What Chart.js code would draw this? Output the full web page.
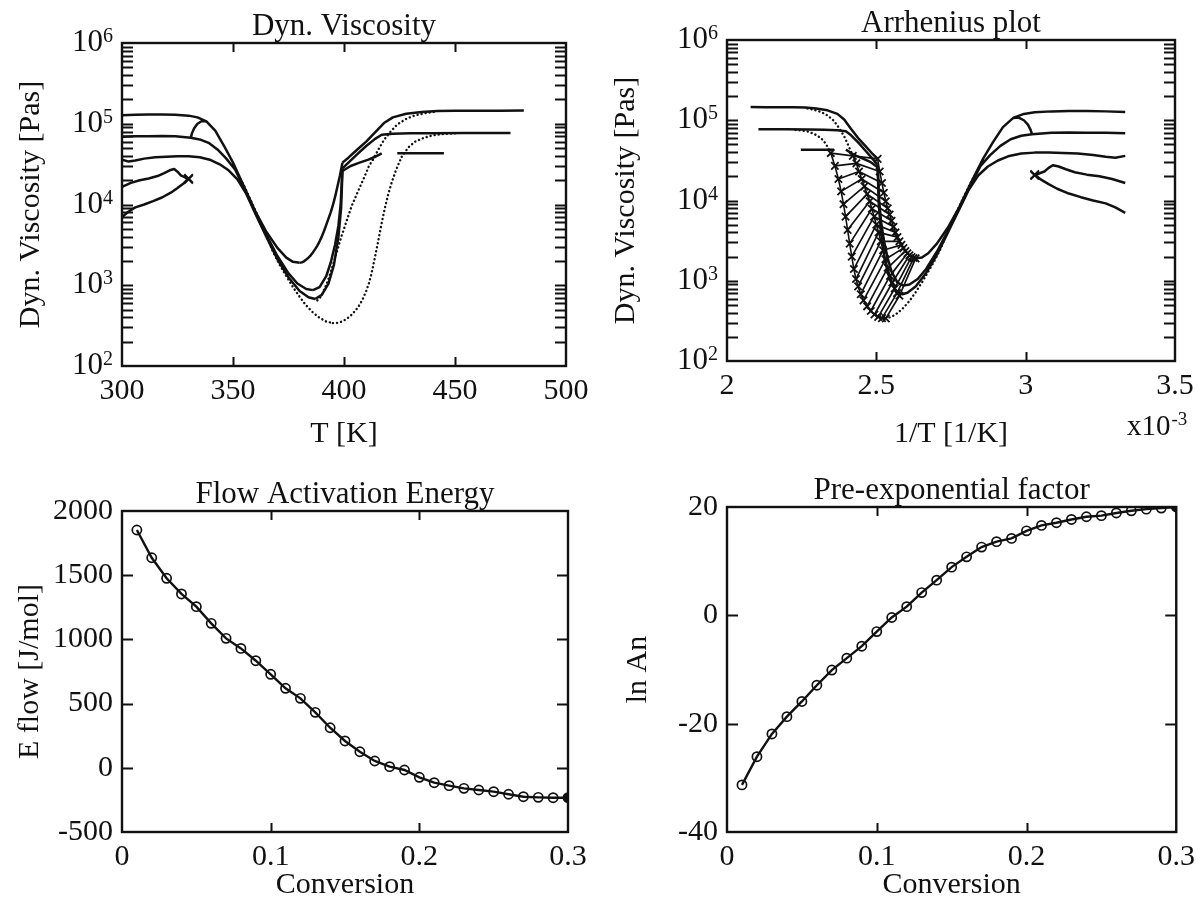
<!DOCTYPE html>
<html>
<head>
<meta charset="utf-8">
<title>Viscosity and flow kinetics</title>
<script src="https://cdn.jsdelivr.net/npm/chart.js@4/dist/chart.umd.min.js"></script>
<style>
  html, body { margin: 0; padding: 0; background: #fff; }
  #page { position: relative; width: 1202px; height: 916px; overflow: hidden; background: #fff; }
  #page canvas { position: absolute; }
</style>
</head>
<body>
<div id="page">
  <canvas id="cVisc"   width="600" height="458" style="left:0;top:0"></canvas>
  <canvas id="cArr"    width="602" height="458" style="left:600px;top:0"></canvas>
  <canvas id="cEnergy" width="600" height="458" style="left:0;top:458px"></canvas>
  <canvas id="cPre"    width="602" height="458" style="left:600px;top:458px"></canvas>
</div>
<script>
// ---- Viscosity runs: temperature [K] and dynamic viscosity [Pa s] ----
// Run A: highest plateau
const runA_preT    = [300, 306, 312, 318, 324, 330, 334, 338, 342, 346, 350, 355, 360, 365, 370, 374, 377, 380];
const runA_preEta  = [127000, 129000, 130000, 130000, 129000, 126000, 120000, 107000, 82000, 53000, 33000, 16600, 8300, 4600, 2900, 2200, 1950, 1900];
const runA_cureT   = [380, 381, 382, 383, 384, 385, 386, 387, 388, 389, 390, 391, 392, 393, 394, 395, 396, 397, 398.2, 399.3];
const runA_cureEta = [1900, 1920, 1980, 2080, 2200, 2350, 2550, 2800, 3100, 3500, 4000, 4700, 5600, 6700, 8000, 9800, 12500, 16500, 23000, 33000];
const runA_postT   = [399.3, 402, 406, 410, 414, 418, 422, 428, 435, 442, 450, 460, 470, 481];
const runA_postEta = [33000, 38000, 48000, 60000, 78000, 102000, 120000, 133000, 140000, 144000, 145000, 145000, 145000, 146000];

// Run B: middle plateau
const runB_preT    = [300, 306, 312, 318, 324, 331, 335, 339, 343, 347, 351, 355, 360, 365, 370, 375, 379, 383, 386];
const runB_preEta  = [69000, 70000, 70000, 70500, 70000, 67000, 64000, 58000, 48000, 37000, 27000, 16000, 8000, 4200, 2300, 1400, 1050, 900, 870];
const runB_cureT   = [386, 389, 392, 394, 396, 397.5, 398.5, 399.3];
const runB_cureEta = [870, 950, 1300, 1900, 3200, 5500, 10000, 28000];
const runB_postT   = [399.3, 402, 406, 410, 414, 417, 422, 430, 440, 455, 475];
const runB_postEta = [28000, 33000, 42000, 53000, 65000, 73000, 75000, 76000, 76500, 77000, 77000];

// Run C: lowest plateau
const runC_preT    = [300, 303, 306, 310, 315, 320, 325, 330, 335, 340, 344, 348, 352, 356, 360, 365, 370, 375, 380, 384, 387];
const runC_preEta  = [36000, 34000, 35000, 37000, 38500, 39000, 39500, 39500, 38500, 35500, 31500, 26500, 20500, 13500, 7800, 4000, 2100, 1250, 850, 710, 675];
const runC_cureT   = [387, 390, 393, 395.5, 397.5, 398.7, 399.3];
const runC_cureEta = [675, 760, 1050, 1800, 4000, 9000, 26000];
const runC_postT   = [399.3, 403, 407, 411, 414, 417];
const runC_postEta = [26000, 30000, 33000, 36000, 39000, 43000];

// Short jump of run B onto run A near 331 K
const loopT   = [331, 331.5, 332.5, 334, 336, 338];
const loopEta = [67000, 76000, 88000, 100000, 108000, 107000];

// Run D: sampled run (dots), deepest minimum
const runD_preT    = [350, 355, 360, 365, 368, 371, 374, 377, 380, 383, 386, 389, 392, 395];
const runD_preEta  = [31000, 17000, 8500, 4200, 2600, 1800, 1300, 950, 720, 560, 460, 395, 355, 340];
const runD_cureT   = [395, 397, 399, 401, 403, 405, 407, 408.5, 410, 411.2, 412.4, 413.6, 414.8, 416, 417.2, 418.4, 419.8, 421.4, 423.5, 426];
const runD_cureEta = [340, 342, 355, 380, 420, 480, 570, 680, 850, 1050, 1400, 2000, 2900, 4300, 6300, 9000, 13000, 18500, 27000, 39000];
const runD_postT   = [426, 429, 432, 436, 440, 445, 450];
const runD_postEta = [39000, 51000, 60000, 67000, 72000, 75000, 76000];

// Run E: sampled run (dots), intermediate minimum
const runE_cureT   = [388, 389.2, 390.4, 391.6, 392.8, 394, 395.2, 396.4, 397.6, 398.8, 400, 401.2, 402.4, 403.6, 405, 406.5, 408, 409.5, 411, 413];
const runE_cureEta = [650, 700, 800, 950, 1150, 1450, 1850, 2400, 3100, 4000, 5000, 6300, 7900, 9800, 12000, 15000, 18500, 23000, 29000, 36000];
const runE_postT   = [413, 415.5, 418, 421, 424, 428, 432, 437, 442];
const runE_postEta = [36000, 48000, 63000, 80000, 98000, 115000, 127000, 136000, 142000];

// Short low-temperature runs and a separate plateau segment
const runF_T   = [300, 304, 308, 312, 316, 319, 321.5, 323.5, 325, 326.5, 328, 330];
const runF_Eta = [16500, 18500, 20000, 21000, 22500, 24500, 26500, 27500, 25500, 23000, 22000, 20500];
const runG_T   = [300, 303, 306, 310, 314, 318, 322, 325, 328, 330];
const runG_Eta = [7000, 8200, 9200, 10000, 11000, 12200, 14000, 16000, 18500, 21000];
const runH_T   = [424, 432, 445];
const runH_Eta = [43000, 43000, 43000];

// ---- Isoconversional results ----
const conversion = [0.01, 0.02, 0.03, 0.04, 0.05, 0.06, 0.07, 0.08, 0.09, 0.10,
                    0.11, 0.12, 0.13, 0.14, 0.15, 0.16, 0.17, 0.18, 0.19, 0.20,
                    0.21, 0.22, 0.23, 0.24, 0.25, 0.26, 0.27, 0.28, 0.29, 0.30];
const eFlow = [1852, 1636, 1476, 1354, 1255, 1125, 1008, 930, 834, 728,
               619, 541, 432, 312, 209, 125, 53, 9, -17, -74,
               -116, -139, -160, -173, -186, -206, -225, -230, -233, -233];
const lnAn  = [-31.3, -26.1, -21.9, -18.7, -15.9, -12.9, -10.1, -7.9, -5.7, -3.0,
               -0.4, 1.6, 4.2, 6.5, 8.9, 10.8, 12.6, 13.6, 14.2, 15.6,
               16.6, 17.1, 17.7, 18.2, 18.4, 18.9, 19.3, 19.6, 19.8, 20.0];

// ---- Axis tick values ----
const viscosityTicks = [];
for (let e = 2; e < 6; e++) for (let m = 1; m < 10; m++) viscosityTicks.push(m * Math.pow(10, e));
viscosityTicks.push(1e6);

// ---- Styling ----
const INK = '#111';
const SERIF = "'Liberation Serif', 'Times New Roman', 'DejaVu Serif', serif";
const tickFont  = { family: SERIF, size: 30 };
const labelFont = { family: SERIF, size: 30 };
const TITLE_PX = 31;
Chart.defaults.font.family = SERIF;
Chart.defaults.color = INK;

const asTemp = t => t;
const asInverse = t => 1000 / t;   // 1/T in units of 1e-3 1/K
const plainNumber = v => String(Number(Number(v).toFixed(6)));

function series(ts, vals, toX) {
  return ts.map((t, i) => ({ x: toX(t), y: vals[i] }));
}
function pairSegments(aT, aV, bT, bV, toX) {
  const out = [];
  aT.forEach((t, i) => {
    out.push({ x: toX(t), y: aV[i] }, { x: toX(bT[i]), y: bV[i] }, { x: toX(bT[i]), y: null });
  });
  return out;
}

const solid = (data, w = 2.5) => ({ data, borderColor: INK, borderWidth: w, pointRadius: 0, borderJoinStyle: 'round' });
const dotted = data => ({ data, borderColor: INK, borderWidth: 2.4, borderDash: [0.1, 4], borderCapStyle: 'round', pointRadius: 0 });
const crossed = data => ({ data, borderColor: INK, borderWidth: 1.6, pointStyle: 'crossRot', pointRadius: 5.2, pointBorderWidth: 1.8, pointBorderColor: INK, pointBackgroundColor: INK });
const endCross = data => Object.assign(solid(data), {
  pointStyle: 'crossRot', pointBorderColor: INK, pointBorderWidth: 1.8,
  pointRadius: c => (c.dataIndex === c.dataset.data.length - 1 ? 6 : 0)
});

function sharedRuns(toX) {
  return [
    solid(series(runA_preT, runA_preEta, toX)),
    solid(series(runA_postT, runA_postEta, toX)),
    solid(series(runB_preT, runB_preEta, toX)),
    solid(series(runB_cureT, runB_cureEta, toX)),
    solid(series(runB_postT, runB_postEta, toX)),
    solid(series(runC_preT, runC_preEta, toX)),
    solid(series(runC_cureT, runC_cureEta, toX)),
    solid(series(runC_postT, runC_postEta, toX)),
    solid(series(loopT, loopEta, toX)),
    solid(series(runH_T, runH_Eta, toX)),
    endCross(series(runF_T, runF_Eta, toX)),
    endCross(series(runG_T, runG_Eta, toX))
  ];
}

// Temperature panel: sampled runs as dots, measured runs as lines
const viscSets = [
  dotted(series(runD_preT, runD_preEta, asTemp)),
  dotted(series(runD_cureT, runD_cureEta, asTemp)),
  dotted(series(runD_postT, runD_postEta, asTemp)),
  dotted(series(runE_cureT, runE_cureEta, asTemp)),
  dotted(series(runE_postT, runE_postEta, asTemp)),
  solid(series(runA_cureT, runA_cureEta, asTemp)),
  ...sharedRuns(asTemp)
];

// Arrhenius panel: curing branches marked with crosses and joined at equal conversion steps
const arrSets = [
  solid(pairSegments(runD_cureT, runD_cureEta, runE_cureT, runE_cureEta, asInverse), 1.7),
  solid(pairSegments(runE_cureT, runE_cureEta, runA_cureT, runA_cureEta, asInverse), 1.7),
  dotted(series(runD_preT, runD_preEta, asInverse)),
  dotted(series(runD_postT, runD_postEta, asInverse)),
  dotted(series(runE_postT, runE_postEta, asInverse)),
  ...sharedRuns(asInverse),
  crossed(series(runD_cureT, runD_cureEta, asInverse)),
  crossed(series(runE_cureT, runE_cureEta, asInverse)),
  crossed(series(runA_cureT, runA_cureEta, asInverse))
];

// Frame, inward ticks, panel title, power-of-ten labels
const panelPlugin = {
  id: 'panel',
  afterDraw(chart, _args, o) {
    const { ctx, chartArea: a } = chart;
    const xs = chart.scales.x, ys = chart.scales.y;
    ctx.save();
    ctx.strokeStyle = INK;
    ctx.fillStyle = INK;
    ctx.lineWidth = 2;
    ctx.beginPath();
    for (const t of xs.ticks) {
      const px = Math.round(xs.getPixelForValue(t.value)) + 0.5;
      if (px < a.left + 2 || px > a.right - 2) continue;
      ctx.moveTo(px, a.bottom); ctx.lineTo(px, a.bottom - o.xTickLen);
      ctx.moveTo(px, a.top);    ctx.lineTo(px, a.top + o.xTickLen);
    }
    for (const t of ys.ticks) {
      const py = Math.round(ys.getPixelForValue(t.value)) + 0.5;
      if (py < a.top + 2 || py > a.bottom - 2) continue;
      ctx.moveTo(a.left, py);  ctx.lineTo(a.left + o.yTickLen, py);
      ctx.moveTo(a.right, py); ctx.lineTo(a.right - o.yTickLen, py);
    }
    ctx.stroke();
    ctx.lineWidth = 2.4;
    ctx.strokeRect(a.left, a.top, a.right - a.left, a.bottom - a.top);

    ctx.font = `${TITLE_PX}px ${SERIF}`;
    ctx.textAlign = 'center';
    ctx.textBaseline = 'alphabetic';
    ctx.fillText(o.title, (a.left + a.right) / 2, a.top - 8);

    if (o.powerLabels) {
      ctx.textAlign = 'left';
      for (const t of ys.ticks) {
        const e = Math.log10(t.value);
        if (Math.abs(e - Math.round(e)) > 1e-9) continue;
        const exp = String(Math.round(e));
        const py = ys.getPixelForValue(t.value);
        const right = a.left - 9;
        ctx.font = `20px ${SERIF}`;
        const wExp = ctx.measureText(exp).width;
        ctx.font = `31px ${SERIF}`;
        const wBase = ctx.measureText('10').width;
        ctx.fillText('10', right - wExp - wBase, py + 8);
        ctx.font = `20px ${SERIF}`;
        ctx.fillText(exp, right - wExp, py - 1);
      }
    }
    if (o.scaleNote) {
      ctx.textAlign = 'left';
      ctx.font = `29px ${SERIF}`;
      const x0 = a.right - 48;
      ctx.fillText('x10', x0, a.bottom + 74);
      const w = ctx.measureText('x10').width;
      ctx.font = `19px ${SERIF}`;
      ctx.fillText('-3', x0 + w + 1, a.bottom + 64);
    }
    ctx.restore();
  }
};

function baseOptions(pad, panel) {
  return {
    responsive: false,
    animation: false,
    devicePixelRatio: 1,
    layout: { padding: pad },
    elements: { line: { tension: 0 } },
    plugins: { legend: { display: false }, tooltip: { enabled: false }, panel },
    scales: {}
  };
}
const noGrid = { display: false, drawTicks: false };

function xAxis(min, max, step, title, height, titlePad) {
  return {
    type: 'linear', min, max,
    ticks: { stepSize: step, padding: 7, font: tickFont, maxRotation: 0, autoSkip: false, callback: plainNumber },
    grid: noGrid, border: { display: false },
    title: { display: true, text: title, font: labelFont, padding: { top: 0, bottom: titlePad } },
    afterFit: s => { s.height = height; }
  };
}
function logAxis(title, width, titlePad) {
  return {
    type: 'logarithmic', min: 100, max: 1e6,
    afterBuildTicks: s => { s.ticks = viscosityTicks.map(value => ({ value })); },
    ticks: { display: false },
    grid: noGrid, border: { display: false },
    title: { display: true, text: title, font: labelFont, padding: { top: titlePad, bottom: 0 } },
    afterFit: s => { s.width = width; }
  };
}
function linAxis(min, max, step, title, width, titlePad) {
  return {
    type: 'linear', min, max,
    ticks: { stepSize: step, padding: 9, font: tickFont, callback: plainNumber },
    grid: noGrid, border: { display: false },
    title: { display: true, text: title, font: labelFont, padding: { top: titlePad, bottom: 0 } },
    afterFit: s => { s.width = width; }
  };
}

// Dyn. Viscosity vs temperature
{
  const opt = baseOptions({ left: 0, top: 43, right: 34, bottom: 0 },
    { title: 'Dyn. Viscosity', powerLabels: true, xTickLen: 9, yTickLen: 11 });
  opt.scales.x = xAxis(300, 500, 50, 'T [K]', 92, 6);
  opt.scales.y = logAxis('Dyn. Viscosity [Pas]', 122, 13);
  new Chart(document.getElementById('cVisc'), { type: 'line', data: { datasets: viscSets }, options: opt, plugins: [panelPlugin] });
}

// Arrhenius plot
{
  const opt = baseOptions({ left: 0, top: 40, right: 27, bottom: 0 },
    { title: 'Arrhenius plot', powerLabels: true, scaleNote: true, xTickLen: 9, yTickLen: 11 });
  opt.scales.x = xAxis(2, 3.5, 0.5, '1/T [1/K]', 97, 6);
  opt.scales.y = logAxis('Dyn. Viscosity [Pas]', 127, 8);
  new Chart(document.getElementById('cArr'), { type: 'line', data: { datasets: arrSets }, options: opt, plugins: [panelPlugin] });
}

const circleStyle = {
  borderColor: INK, borderWidth: 2.4, pointStyle: 'circle', pointRadius: 4.6,
  pointBorderWidth: 1.7, pointBorderColor: INK,
  pointBackgroundColor: c => (c.dataIndex === conversion.length - 1 ? INK : 'rgba(255,255,255,0)')
};

// Flow activation energy vs conversion
{
  const opt = baseOptions({ left: 0, top: 53, right: 32, bottom: 0 },
    { title: 'Flow Activation Energy', xTickLen: 9, yTickLen: 11 });
  opt.scales.x = xAxis(0, 0.3, 0.1, 'Conversion', 84, 13);
  opt.scales.y = linAxis(-500, 2000, 500, 'E flow [J/mol]', 122, 12);
  new Chart(document.getElementById('cEnergy'), {
    type: 'line',
    data: { datasets: [Object.assign({ data: conversion.map((c, i) => ({ x: c, y: eFlow[i] })) }, circleStyle)] },
    options: opt, plugins: [panelPlugin]
  });
}

// Pre-exponential factor vs conversion
{
  const opt = baseOptions({ left: 0, top: 49, right: 25, bottom: 0 },
    { title: 'Pre-exponential factor', xTickLen: 9, yTickLen: 11 });
  opt.scales.x = xAxis(0, 0.3, 0.1, 'Conversion', 84, 13);
  opt.scales.y = linAxis(-40, 20, 20, 'ln An', 127, 20);
  new Chart(document.getElementById('cPre'), {
    type: 'line',
    data: { datasets: [Object.assign({ data: conversion.map((c, i) => ({ x: c, y: lnAn[i] })) }, circleStyle)] },
    options: opt, plugins: [panelPlugin]
  });
}
</script>
</body>
</html>
